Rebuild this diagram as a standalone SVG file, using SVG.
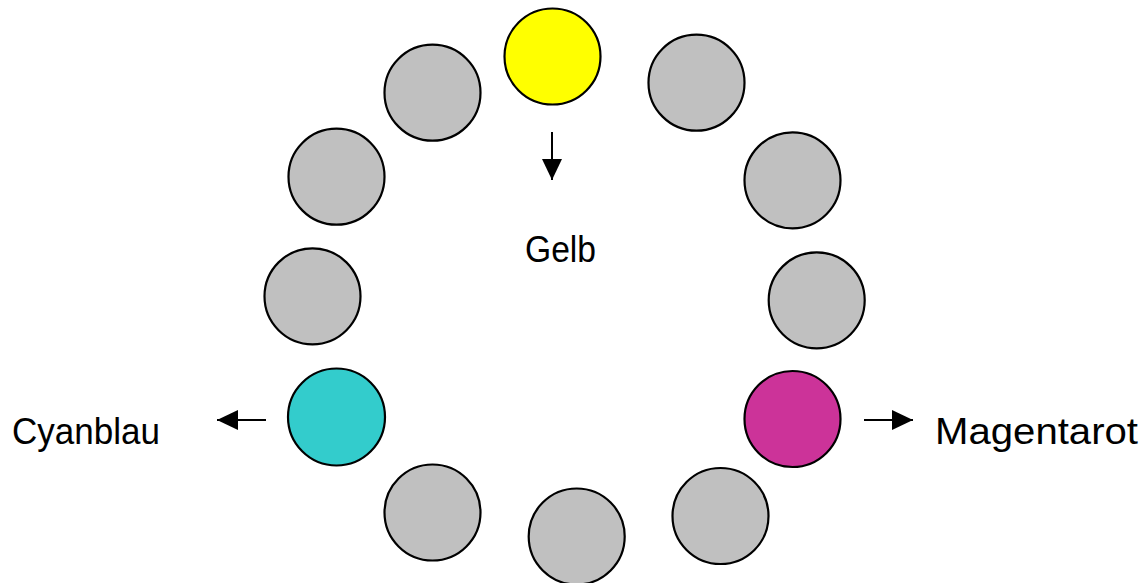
<svg xmlns="http://www.w3.org/2000/svg" width="1148" height="583" viewBox="0 0 1148 583">
<style>
  .n { stroke: #000; stroke-width: 2.2; }
  .g { fill: #c0c0c0; }
  .lbl { font-family: "Liberation Sans", Arial, sans-serif; font-size: 36px; fill: #000; }
  .c { stroke: #000; stroke-width: 2; fill: none; }
</style>
<defs>
  <marker id="ah" viewBox="0 0 21 20" refX="21" refY="10" markerWidth="21" markerHeight="20" markerUnits="userSpaceOnUse" orient="auto">
    <path d="M0,0 L21,10 L0,20 Z" fill="#000"/>
  </marker>
</defs>
<rect width="1148" height="583" fill="#fff"/>
<g id="yellow"><circle class="n" cx="552.5" cy="56.5" r="48" fill="#ffff00"/></g>
<g id="c1"><circle class="n g" cx="696.5" cy="82.7" r="48"/></g>
<g id="c2"><circle class="n g" cx="792.5" cy="180.3" r="48"/></g>
<g id="c3"><circle class="n g" cx="816.7" cy="300.3" r="48"/></g>
<g id="magenta"><circle class="n" cx="792.5" cy="419" r="48" fill="#cc3399"/></g>
<g id="c5"><circle class="n g" cx="720.5" cy="516" r="48"/></g>
<g id="c6"><circle class="n g" cx="576.7" cy="536.5" r="48"/></g>
<g id="c7"><circle class="n g" cx="432.5" cy="512.5" r="48"/></g>
<g id="cyan"><circle class="n" cx="336.5" cy="417" r="48.5" fill="#33cccc"/></g>
<g id="c9"><circle class="n g" cx="312.5" cy="296.3" r="48"/></g>
<g id="c10"><circle class="n g" cx="336.5" cy="176.7" r="48"/></g>
<g id="c11"><circle class="n g" cx="432.5" cy="92.7" r="48"/></g>
<g id="connectors">
  <line class="c" x1="552" y1="132" x2="552" y2="180" marker-end="url(#ah)"/>
  <line class="c" x1="266" y1="420" x2="217" y2="420" marker-end="url(#ah)"/>
  <line class="c" x1="864" y1="420" x2="913" y2="420" marker-end="url(#ah)"/>
</g>
<g id="labels">
  <text class="lbl" x="525" y="262" textLength="71" lengthAdjust="spacingAndGlyphs">Gelb</text>
  <text class="lbl" x="12" y="444" textLength="148" lengthAdjust="spacingAndGlyphs">Cyanblau</text>
  <text class="lbl" x="935" y="444" textLength="203" lengthAdjust="spacingAndGlyphs">Magentarot</text>
</g>
</svg>
